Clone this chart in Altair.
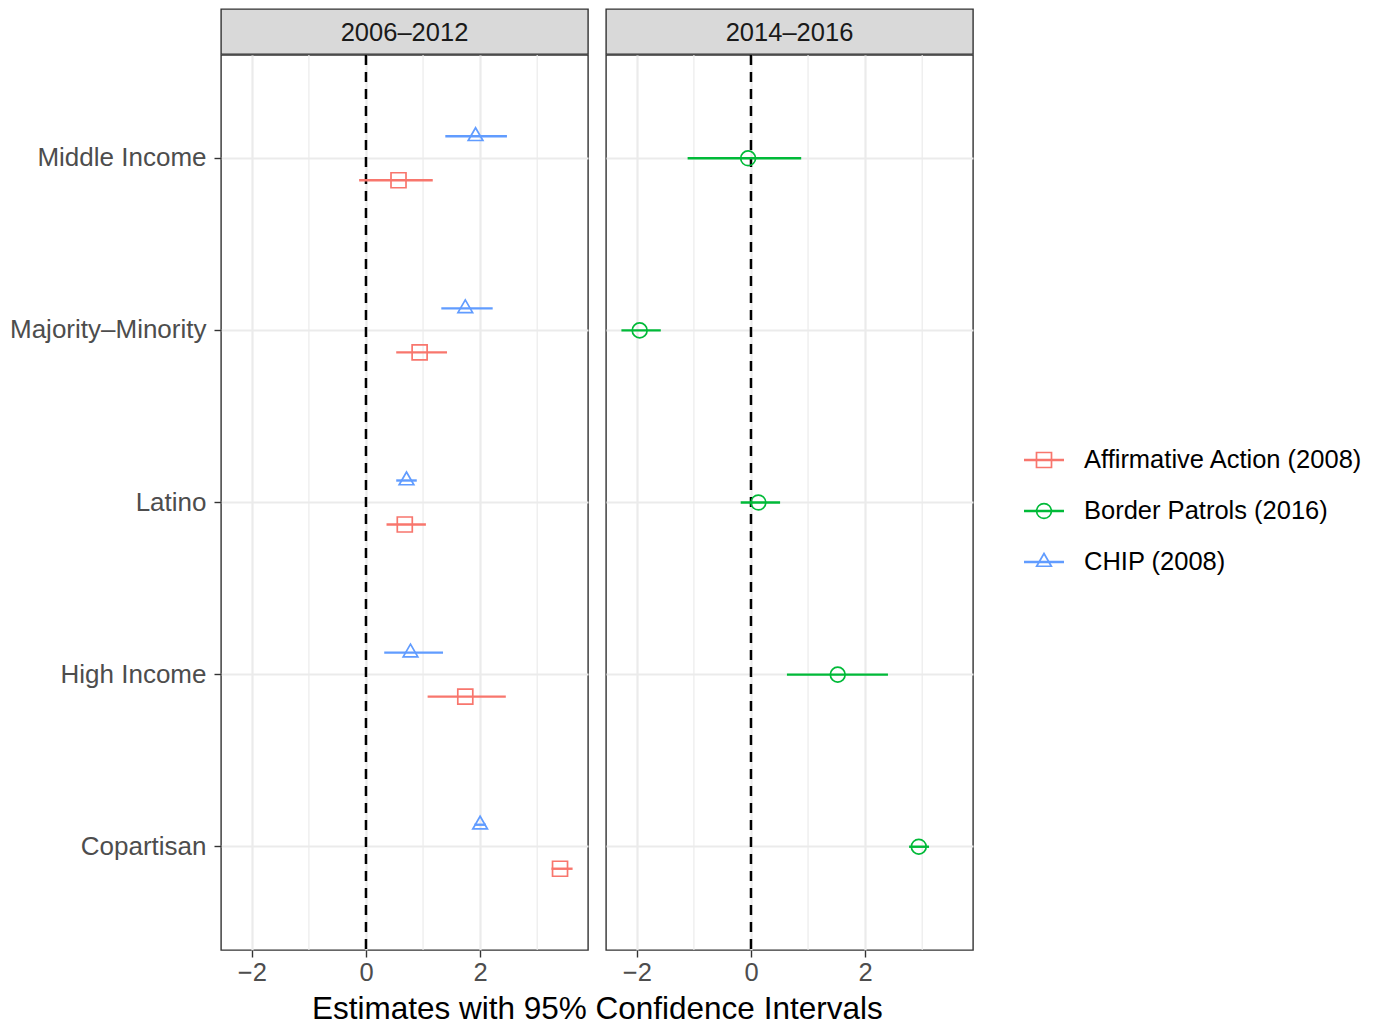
import altair as alt
import pandas as pd

categories = ["Middle Income", "Majority–Minority", "Latino", "High Income", "Copartisan"]
series = ["Affirmative Action (2008)", "Border Patrols (2016)", "CHIP (2008)"]
series_colors = ["#F8766D", "#00BA38", "#619CFF"]
panels = ["2006–2012", "2014–2016"]

# Affirmative Action (2008) -- panel 2006–2012
aa_est = [0.57, 0.94, 0.68, 1.74, 3.40]
aa_lo = [-0.12, 0.53, 0.36, 1.08, 3.25]
aa_hi = [1.17, 1.42, 1.05, 2.45, 3.62]
# CHIP (2008) -- panel 2006–2012
chip_est = [1.92, 1.74, 0.71, 0.78, 2.00]
chip_lo = [1.39, 1.32, 0.53, 0.32, 1.90]
chip_hi = [2.47, 2.22, 0.89, 1.35, 2.10]
# Border Patrols (2016) -- panel 2014–2016
bp_est = [-0.05, -1.95, 0.13, 1.52, 2.94]
bp_lo = [-1.11, -2.27, -0.18, 0.63, 2.77]
bp_hi = [0.88, -1.58, 0.51, 2.40, 3.12]

major_breaks = [-2, 0, 2]
minor_breaks = [-1, 1, 3]
x_domain = [-2.54, 3.89]

rows = []
for s, p, est, lo, hi in [
    (series[0], panels[0], aa_est, aa_lo, aa_hi),
    (series[2], panels[0], chip_est, chip_lo, chip_hi),
    (series[1], panels[1], bp_est, bp_lo, bp_hi),
]:
    for c, e, l, h in zip(categories, est, lo, hi):
        rows.append({"category": c, "series": s, "panel": p, "est": e, "lo": l, "hi": h})
df = pd.DataFrame(rows)

FONT = "Liberation Sans"
PW, PH, HH = 367, 895, 45
STEP = PH / 5.2

color_scale = alt.Scale(domain=series, range=series_colors)
shape_scale = alt.Scale(domain=series, range=["square", "circle", "M-1,0.577L1,0.577L0,-1.155Z"])
size_scale = alt.Scale(domain=series, range=[225, 215, 560])
x_scale = alt.Scale(domain=x_domain, nice=False, zero=False)
x_axis = alt.Axis(values=major_breaks, title=None, grid=True, gridColor="#EBEBEB", gridWidth=2.2,
                  domain=False, tickColor="#333333", tickSize=7, tickWidth=1.4,
                  labelFontSize=25.5, labelColor="#4D4D4D", labelPadding=3, labelFont=FONT,
                  labelExpr="replace(format(datum.value, 'd'), '-', '−')")
offset_order = [series[2], series[1], series[0]]


def make_panel(panel_name, show_y):
    y_axis = alt.Axis(title=None, labels=show_y, ticks=show_y, domain=False, grid=True,
                      bandPosition=0.5, gridColor="#EBEBEB", gridWidth=2.2,
                      tickColor="#333333", tickSize=7, tickWidth=1.4, labelLimit=0,
                      labelFontSize=26, labelColor="#4D4D4D", labelPadding=8, labelFont=FONT)
    y_enc = alt.Y("category:N", sort=categories,
                  scale=alt.Scale(domain=categories, paddingInner=0, paddingOuter=0.1),
                  axis=y_axis)
    yo_enc = alt.YOffset("series:N", sort=offset_order,
                         scale=alt.Scale(domain=offset_order, paddingInner=0, paddingOuter=0,
                                         range=[STEP / 2 - 33, STEP / 2 + 33]))
    sub = df[df["panel"] == panel_name]

    minor = alt.Chart(pd.DataFrame({"v": minor_breaks})).mark_rule(
        color="#EBEBEB", strokeWidth=1.2).encode(
        x=alt.X("v:Q", scale=x_scale, axis=x_axis))
    zero = alt.Chart(pd.DataFrame({"v": [0]})).mark_rule(
        color="black", strokeWidth=2.5, strokeDash=[10, 7]).encode(
        x=alt.X("v:Q", scale=x_scale, axis=x_axis))
    bars = alt.Chart(sub).mark_rule(strokeWidth=2.4).encode(
        x=alt.X("lo:Q", scale=x_scale, axis=x_axis), x2="hi:Q",
        y=y_enc, yOffset=yo_enc,
        color=alt.Color("series:N", scale=color_scale, legend=None))
    pts = alt.Chart(sub).mark_point(filled=False, strokeWidth=1.7, opacity=1).encode(
        x=alt.X("est:Q", scale=x_scale, axis=x_axis),
        y=y_enc, yOffset=yo_enc,
        color=alt.Color("series:N", scale=color_scale, legend=None),
        shape=alt.Shape("series:N", scale=shape_scale, legend=None),
        size=alt.Size("series:N", scale=size_scale, legend=None))
    panel = alt.layer(minor, zero, bars, pts).properties(width=PW, height=PH)

    header = alt.Chart(pd.DataFrame({"panel": [panel_name]})).mark_text(
        font=FONT, fontSize=25.5, color="#1A1A1A", baseline="middle", align="center").encode(
        text="panel:N", x=alt.value(PW / 2), y=alt.value(HH / 2 + 1)).properties(
        width=PW, height=HH, view=alt.ViewBackground(fill="#D9D9D9", stroke="#333333", strokeWidth=1.4))
    return alt.vconcat(header, panel, spacing=-3)


panels_chart = alt.hconcat(make_panel(panels[0], True), make_panel(panels[1], False), spacing=16).properties(
    title=alt.TitleParams("Estimates with 95% Confidence Intervals", orient="bottom", anchor="end",
                          dx=-91, fontSize=31.5, font=FONT, color="black", fontWeight="normal", offset=8))

leg_df = pd.DataFrame({"lseries": series})
leg_y = alt.Y("lseries:N", sort=series, axis=None,
              scale=alt.Scale(type="point", domain=series, range=[451, 553], padding=0))
leg_rule = alt.Chart(leg_df).mark_rule(strokeWidth=2.4).encode(
    x=alt.value(32), x2=alt.value(72), y=leg_y,
    color=alt.Color("lseries:N", scale=color_scale, legend=None))
leg_pt = alt.Chart(leg_df).mark_point(filled=False, strokeWidth=1.7, opacity=1).encode(
    x=alt.value(52), y=leg_y,
    color=alt.Color("lseries:N", scale=color_scale, legend=None),
    shape=alt.Shape("lseries:N", scale=shape_scale, legend=None),
    size=alt.Size("lseries:N", scale=size_scale, legend=None))
leg_txt = alt.Chart(leg_df).mark_text(font=FONT, fontSize=25.5, color="black", align="left",
                                      baseline="middle").encode(
    x=alt.value(92), y=leg_y, text="lseries:N")
legend_chart = alt.layer(leg_rule, leg_pt, leg_txt).properties(
    width=370, height=HH + PH, view=alt.ViewBackground(stroke="transparent"))

chart = alt.hconcat(panels_chart, legend_chart, spacing=17).resolve_scale(
    x="independent", y="independent").properties(
    padding={"left": 0, "top": 0, "right": 0, "bottom": 0}).configure(
    font=FONT).configure_view(stroke="#333333", strokeWidth=1.4)

chart.save("out.html", embed_options={"renderer": "svg", "actions": False})
